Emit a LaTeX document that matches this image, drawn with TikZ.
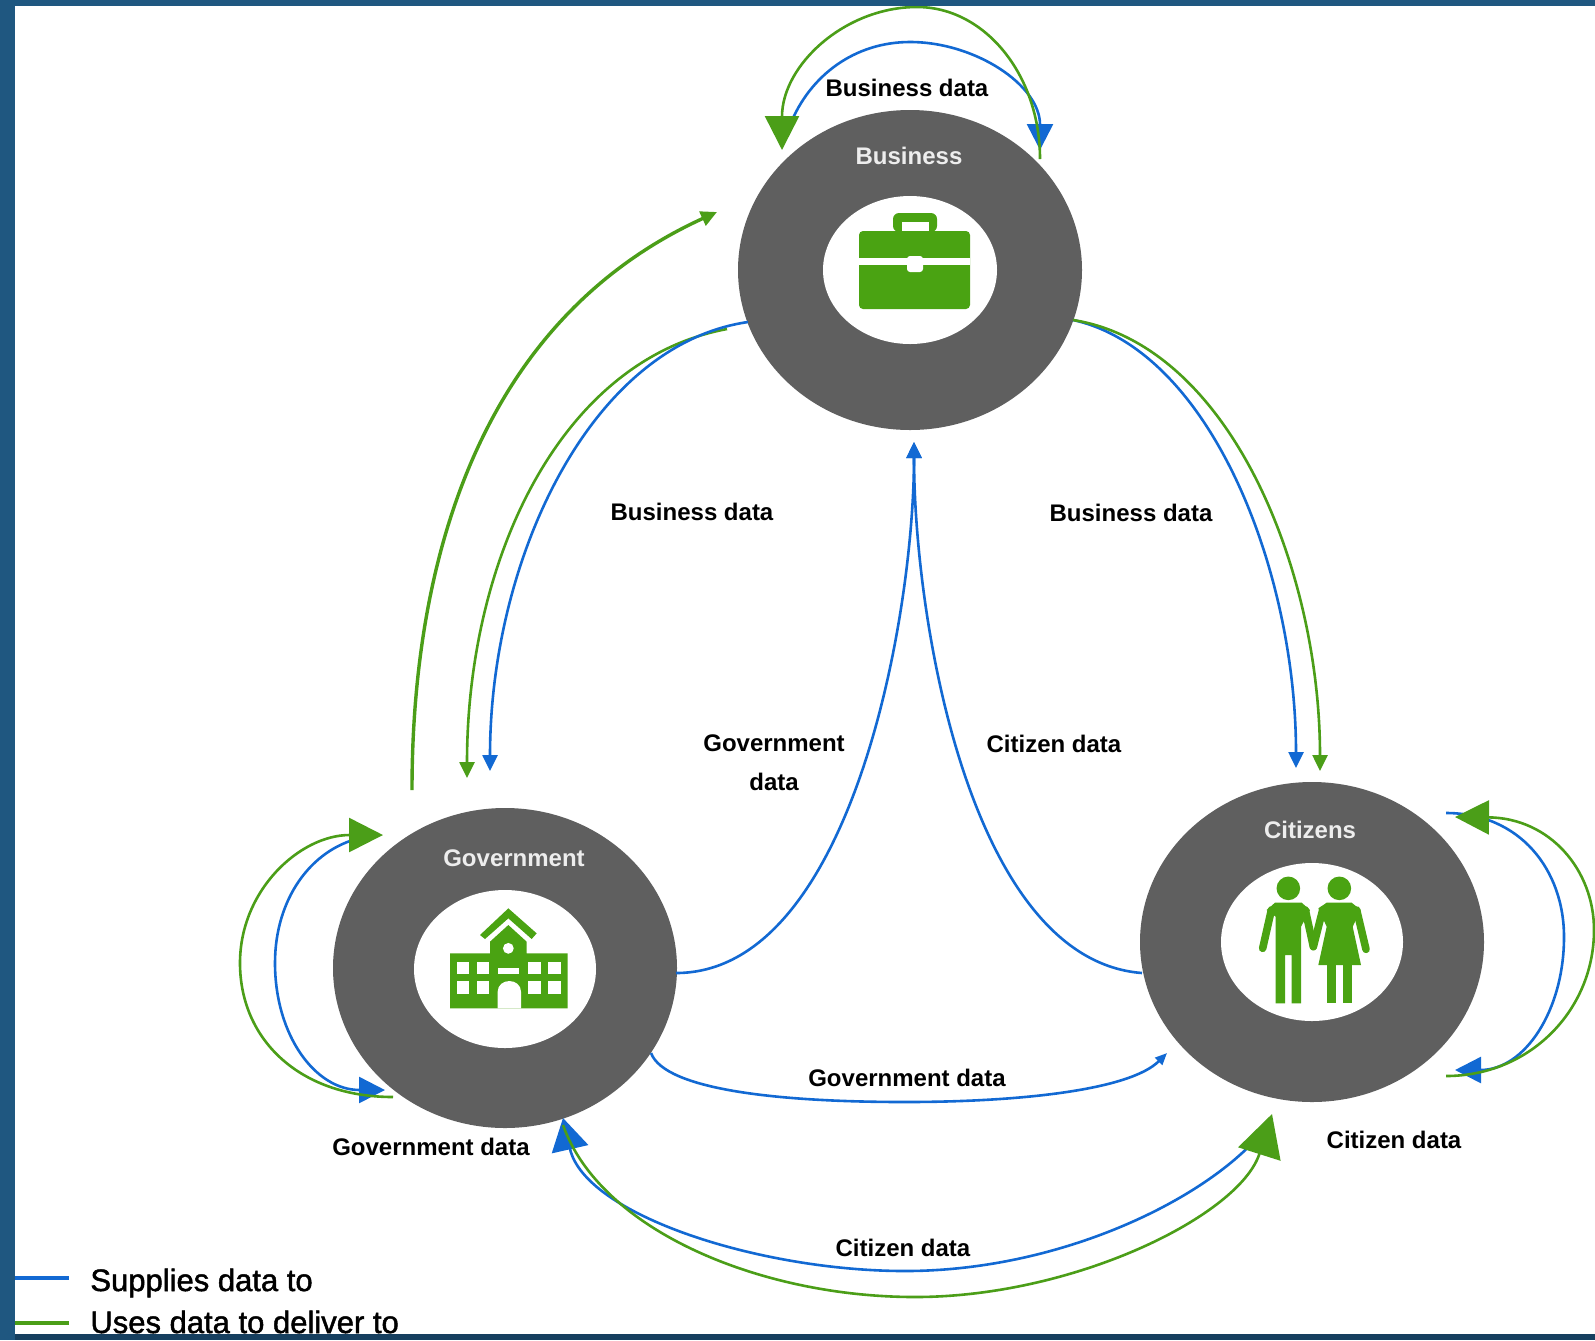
\documentclass[tikz,border=0pt]{standalone}
\usepackage{fontspec}
\setmainfont{Liberation Sans}
\newfontface\legface{Liberation Sans}[FakeBold=1.5]
\usetikzlibrary{arrows.meta,shapes.geometric}
\definecolor{bandblue}{HTML}{1F5780}
\definecolor{banddark}{HTML}{163F5F}
\definecolor{ringgray}{HTML}{5F5F5F}
\definecolor{icongreen}{HTML}{4AA312}
\definecolor{linegreen}{HTML}{4B9E18}
\definecolor{lineblue}{HTML}{1269D3}
\tikzset{
  ring/.style={ellipse,fill=ringgray,draw=none,inner sep=0pt,minimum width=172pt,minimum height=160pt},
  hole/.style={ellipse,fill=white,draw=none,inner sep=0pt,minimum width=91pt,minimum height=79pt},
  lbl/.style={font=\bfseries\fontsize{12}{19.5}\selectfont,text=black,align=center,inner sep=0pt},
  wlbl/.style={font=\bfseries\fontsize{12}{15}\selectfont,text=white!93!black,inner sep=0pt},
  leglbl/.style={font=\legface\fontsize{15.5}{18}\selectfont,text=black,inner sep=0pt,anchor=base west},
  bl/.style={draw=lineblue,line width=1.3pt},
  gr/.style={draw=linegreen,line width=1.3pt},
  smallb/.style={-{Triangle[length=8pt,width=7.5pt]}},
  smallg/.style={-{Triangle[length=8pt,width=7.5pt]}},
  bigb/.style={-{Triangle[length=13pt,width=13pt]}},
  hugeb/.style={-{Triangle[length=16pt,width=18.5pt]}},
  bigg/.style={-{Triangle[length=17pt,width=17pt]}},
  hugeg/.style={-{Triangle[length=21pt,width=22pt]}},
  icon/.style={fill=icongreen,draw=none},
  iconw/.style={fill=white,draw=none},
}
\begin{document}
\begin{tikzpicture}[x=0.5pt,y=-0.5pt]
\useasboundingbox (0,0) rectangle (1595,1340);
\fill[white] (0,0) rectangle (1595,1340);

% rings
\node[ring] (bus) at (910,270) {};
\node[hole] (bushole) at (910,270) [minimum width=87pt,minimum height=74pt] {};
\node[ring] (gov) at (505,968) {};
\node[hole] (govhole) at (505,969) {};
\node[ring] (cit) at (1312,942) {};
\node[hole] (cithole) at (1312,942) {};

% briefcase
\fill[icon,rounded corners=3pt] (893,232) -- (893,213) -- (937,213) -- (937,232) -- cycle;
\fill[iconw] (902,222) rectangle (929,232);
\fill[icon,rounded corners=2pt] (859,231) rectangle (970,309);
\fill[iconw] (859,258) rectangle (970,265);
\fill[iconw,rounded corners=1.5pt] (907,256) rectangle (923,272);

% building
\begin{scope}[shift={(220,790)},x=0.16667pt,y=-0.16667pt]
\fill[icon] (780,435) -- (865,355) -- (950,430) -- (935,447) -- (865,385) -- (795,447) -- cycle;
\fill[icon] (690,490) -- (810,490) -- (810,455) -- (865,405) -- (920,455) -- (920,490) -- (1043,490) -- (1043,655) -- (690,655) -- cycle;
\foreach \wx in {710,770,925,985}{
  \foreach \wy in {515,573}{
    \fill[iconw] (\wx,\wy) rectangle ++(38,38);
  }
}
\fill[iconw] (833,535) rectangle (897,552);
\fill[iconw] (865,475) circle[radius=2.7pt];
\fill[iconw] (833,655) -- (833,605) .. controls (833,585) and (850,573) .. (868,573) .. controls (886,573) and (903,585) .. (903,605) -- (903,655) -- cycle;
\end{scope}

% people
\begin{scope}[shift={(1130,770)},x=0.16667pt,y=-0.16667pt]
\fill[icon] (475,355) circle[radius=5.9pt];
\fill[icon] (628,355) circle[radius=5.9pt];
\fill[icon] (437,440) -- (410,420) -- (435,398) -- (515,398) -- (540,420) -- (513,470) -- (513,700) -- (485,700) -- (485,555) -- (465,555) -- (465,700) -- (437,700) -- cycle;
\draw[icongreen,line width=3.8pt,line cap=round] (424,420) -- (398,535);
\draw[icongreen,line width=3.8pt,line cap=round] (526,420) -- (550,530);
\fill[icon] (592,580) rectangle (617,700);
\fill[icon] (640,580) rectangle (667,700);
\fill[icon] (565,415) -- (590,398) -- (665,398) -- (692,420) -- (668,470) -- (693,585) -- (565,585) -- (590,470) -- cycle;
\draw[icongreen,line width=3.8pt,line cap=round] (578,420) -- (550,530);
\draw[icongreen,line width=3.8pt,line cap=round] (680,420) -- (708,538);
\end{scope}

% connector ends
\coordinate (busR) at (1040,159);
\coordinate (busL) at (782,150);
\coordinate (busLb) at (790,125);
\coordinate (busRb) at (1040,150);
\coordinate (govTop) at (383,835);
\coordinate (govLow) at (393,1097);
\coordinate (govTopb) at (360,838);
\coordinate (govLowb) at (385,1090);
\coordinate (citLow) at (1446,1076);
\coordinate (citTop) at (1455,817);
\coordinate (citTopb) at (1446,813);
\coordinate (citLowb) at (1455,1070);
\coordinate (govUp) at (412,790);
\coordinate (busIn) at (717,212);
\coordinate (busOutG) at (727,329);
\coordinate (busOutB) at (748,322);
\coordinate (govInG) at (467,778);
\coordinate (govInB) at (490,771);
\coordinate (busOutR) at (1073,320);
\coordinate (citInB) at (1296,768);
\coordinate (citInG) at (1320,771);
\coordinate (govE) at (676,973);
\coordinate (citW) at (1142,973);
\coordinate (busS) at (914,442);
\coordinate (govSE) at (651,1053);
\coordinate (citSW) at (1167,1053);
\coordinate (citS) at (1272,1119);
\coordinate (citSg) at (1272,1114);
\coordinate (govS) at (563,1118);
\coordinate (govSg) at (563,1125);

% self loops: blue first, green over it
\draw[bl,bigb] (busLb) .. controls (810,75) and (855,42) .. (910,42) .. controls (975,42) and (1040,85) .. (busRb);
\draw[gr,bigg] (busR) .. controls (1040,75) and (985,7) .. (917,7) .. controls (845,7) and (782,65) .. (busL);
\draw[bl,bigb] (govTopb) .. controls (310,850) and (275,900) .. (275,963) .. controls (275,1035) and (315,1090) .. (govLowb);
\draw[gr,bigg] (govLow) .. controls (300,1097) and (240,1040) .. (240,963) .. controls (240,890) and (300,835) .. (govTop);
\draw[bl,bigb] (citTopb) .. controls (1520,813) and (1564,870) .. (1564,937) .. controls (1564,1010) and (1525,1070) .. (citLowb);
\draw[gr,bigg] (citLow) .. controls (1530,1076) and (1594,1010) .. (1594,930) .. controls (1594,870) and (1550,818) .. (citTop);

% long connectors
\draw[gr,line width=1.7pt,smallg] (govUp) .. controls (412,560) and (480,320) .. (busIn);
\draw[gr,smallg] (busOutG) .. controls (560,360) and (467,560) .. (govInG);
\draw[bl,smallb] (busOutB) .. controls (590,345) and (490,560) .. (govInB);
\draw[bl,smallb] (busOutR) .. controls (1210,350) and (1296,570) .. (citInB);
\draw[gr,smallg] (busOutR) .. controls (1230,345) and (1320,570) .. (citInG);
\draw[bl,smallb] (govE) .. controls (850,973) and (914,620) .. (busS);
\draw[bl,smallb] (citW) .. controls (970,960) and (914,620) .. (busS);
\draw[bl,-{Triangle[length=6pt,width=5pt]}] (govSE) .. controls (665,1090) and (780,1102) .. (905,1102) .. controls (1020,1102) and (1130,1090) .. (citSW);
\draw[bl,hugeb] (citS) .. controls (1225,1190) and (1070,1271) .. (905,1271) .. controls (760,1271) and (585,1215) .. (govS);
\draw[gr,hugeg] (govSg) .. controls (600,1230) and (760,1297) .. (915,1297) .. controls (1075,1297) and (1240,1215) .. (citSg);

% labels
\node[lbl] (l1) at (907,88) {Business data};
\node[wlbl] (n1) at (909,156) {Business};
\node[lbl] (l2) at (692,512) {Business data};
\node[lbl] (l3) at (1131,513) {Business data};
\node[lbl] (l4) at (774,763) {Government\\data};
\node[lbl] (l5) at (1054,744) {Citizen data};
\node[wlbl] (n2) at (514,858) {Government};
\node[wlbl] (n3) at (1310,830) {Citizens};
\node[lbl] (l6) at (907,1078) {Government data};
\node[lbl] (l7) at (431,1147) {Government data};
\node[lbl] (l8) at (1394,1140) {Citizen data};
\node[lbl] (l9) at (903,1248) {Citizen data};

% legend
\coordinate (lega) at (15,1278);
\coordinate (legb) at (69,1278);
\coordinate (legc) at (15,1323);
\coordinate (legd) at (69,1323);
\draw[bl,line width=1.6pt] (lega) -- (legb);
\draw[gr,line width=1.6pt] (legc) -- (legd);
\node[leglbl] (s1) at (90,1291) {Supplies data to};
\node[leglbl] (s2) at (90,1333) {Uses data to deliver to};

% frame
\fill[bandblue] (0,0) rectangle (1595,6);
\fill[bandblue] (0,0) rectangle (15,1340);
\fill[banddark] (15,1334) rectangle (1595,1340);
\end{tikzpicture}
\end{document}
